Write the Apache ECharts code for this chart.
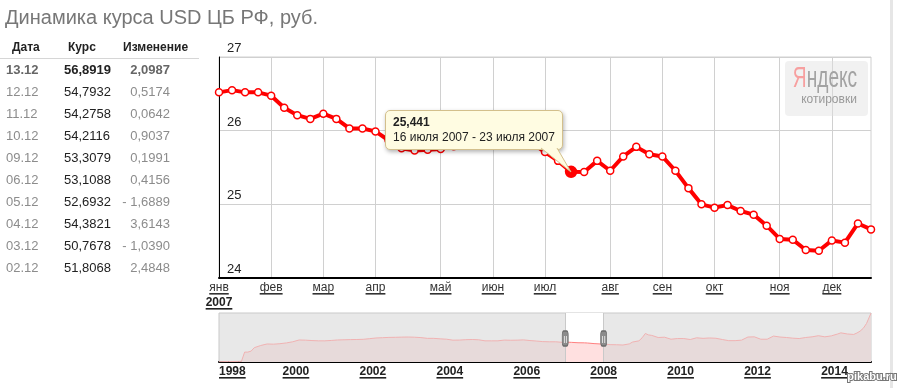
<!DOCTYPE html>
<html lang="ru">
<head>
<meta charset="UTF-8">
<title>Динамика курса USD ЦБ РФ</title>
<script src="https://cdn.jsdelivr.net/npm/echarts@6/dist/echarts.min.js"></script>
<style>
    html, body { margin: 0; padding: 0; background: #fff; }
    #chart { width: 897px; height: 388px; }
</style>
</head>
<body>
<div id="chart"></div>
<script>
    // таблица слева
    var tableDates = ['13.12', '12.12', '11.12', '10.12', '09.12', '06.12', '05.12', '04.12', '03.12', '02.12'];
    var tableRates = ['56,8919', '54,7932', '54,2758', '54,2116', '53,3079', '53,1088', '52,6932', '54,3821', '50,7678', '51,8068'];
    var tableChanges = ['2,0987', '0,5174', '0,0642', '0,9037', '0,1991', '0,4156', '- 1,6889', '3,6143', '- 1,0390', '2,4848'];

    // недели 2007 года (начало недели)
    var weeks = [
        '2007-01-08', '2007-01-15', '2007-01-22', '2007-01-29',
        '2007-02-05', '2007-02-12', '2007-02-19', '2007-02-26',
        '2007-03-05', '2007-03-12', '2007-03-19', '2007-03-26',
        '2007-04-02', '2007-04-09', '2007-04-16', '2007-04-23', '2007-04-30',
        '2007-05-07', '2007-05-14', '2007-05-21', '2007-05-28',
        '2007-06-04', '2007-06-11', '2007-06-18', '2007-06-25',
        '2007-07-02', '2007-07-09', '2007-07-16', '2007-07-23', '2007-07-30',
        '2007-08-06', '2007-08-13', '2007-08-20', '2007-08-27',
        '2007-09-03', '2007-09-10', '2007-09-17', '2007-09-24',
        '2007-10-01', '2007-10-08', '2007-10-15', '2007-10-22', '2007-10-29',
        '2007-11-05', '2007-11-12', '2007-11-19', '2007-11-26',
        '2007-12-03', '2007-12-10', '2007-12-17', '2007-12-24'
    ];
    var weekValues = [
        26.52, 26.55, 26.52, 26.52, 26.475, 26.31, 26.21, 26.16,
        26.23, 26.16, 26.03, 26.03, 25.99, 25.87, 25.76, 25.73, 25.74,
        25.75, 25.79, 25.84, 25.88, 25.92, 25.95, 25.90, 25.83,
        25.71, 25.59, 25.441, 25.44, 25.59, 25.456, 25.65, 25.78, 25.68,
        25.65, 25.456, 25.22, 25.00, 24.955, 24.99, 24.91, 24.86, 24.71,
        24.53, 24.52, 24.38, 24.37, 24.51, 24.48, 24.74, 24.66
    ];
    var activeIndex = 27;

    // обзор 1998 - 2014
    var overviewDates = [
        '1998-01', '1998-04', '1998-07', '1998-08', '1998-09', '1998-10', '1998-11', '1998-12',
        '1999-02', '1999-04', '1999-06', '1999-08', '1999-10', '1999-12',
        '2000-02', '2000-04', '2000-06', '2000-08', '2000-10', '2000-12',
        '2001-02', '2001-04', '2001-06', '2001-08', '2001-10', '2001-12',
        '2002-02', '2002-04', '2002-06', '2002-08', '2002-10', '2002-12',
        '2003-02', '2003-04', '2003-06', '2003-08', '2003-10', '2003-12',
        '2004-02', '2004-04', '2004-06', '2004-08', '2004-10', '2004-12',
        '2005-02', '2005-04', '2005-06', '2005-08', '2005-10', '2005-12',
        '2006-02', '2006-04', '2006-06', '2006-08', '2006-10', '2006-12',
        '2007-01', '2007-03', '2007-05', '2007-07', '2007-08', '2007-10', '2007-12',
        '2008-01', '2008-03', '2008-05', '2008-07', '2008-09', '2008-10', '2008-12',
        '2009-01', '2009-02', '2009-03', '2009-04', '2009-06', '2009-08', '2009-10', '2009-12',
        '2010-02', '2010-04', '2010-06', '2010-08', '2010-10', '2010-12',
        '2011-02', '2011-04', '2011-06', '2011-08', '2011-10', '2011-12',
        '2012-02', '2012-04', '2012-06', '2012-08', '2012-10', '2012-12',
        '2013-02', '2013-04', '2013-06', '2013-08', '2013-10', '2013-12',
        '2014-02', '2014-03', '2014-05', '2014-07', '2014-08', '2014-09', '2014-10', '2014-11', '2014-12-13'
    ];
    var overviewValues = [
        5.96, 6.10, 6.20, 6.30, 16.0, 16.0, 17.0, 20.6,
        22.9, 24.5, 24.3, 24.8, 25.6, 26.8,
        28.7, 28.5, 28.1, 27.8, 27.8, 28.2,
        28.7, 28.9, 29.1, 29.2, 29.4, 30.1,
        30.8, 31.1, 31.4, 31.5, 31.7, 31.8,
        31.6, 31.2, 30.4, 30.4, 29.9, 29.5,
        28.5, 28.6, 29.0, 29.2, 28.9, 27.8,
        27.8, 27.8, 28.6, 28.4, 28.5, 28.8,
        28.1, 27.6, 27.0, 26.8, 26.8, 26.3,
        26.5, 26.2, 25.8, 25.7, 25.5, 24.9, 24.5,
        24.6, 23.8, 23.7, 23.4, 24.6, 26.5, 27.8,
        31.0, 35.5, 34.0, 33.5, 31.3, 31.6, 29.5, 30.2,
        30.2, 29.2, 31.0, 30.4, 30.8, 30.5,
        29.2, 28.0, 28.0, 28.5, 31.8, 32.0,
        29.5, 29.5, 32.8, 31.8, 31.3, 30.6,
        30.2, 31.3, 32.0, 33.2, 32.0, 33.0,
        35.0, 36.2, 35.0, 34.5, 36.0, 38.0, 41.0, 46.0, 56.9
    ];
    var windowStart = 2007;
    var windowEnd = 2008;
    var overviewMin = 5.6;
    var yearStep = 2;

    var monthShort = ['янв', 'фев', 'мар', 'апр', 'май', 'июн', 'июл', 'авг', 'сен', 'окт', 'ноя', 'дек'];
    var monthGen = ['января', 'февраля', 'марта', 'апреля', 'мая', 'июня', 'июля', 'августа', 'сентября', 'октября', 'ноября', 'декабря'];

    var FONT = 'Arial, "Liberation Sans", sans-serif';

    function yearFrac(s) {
        var p = s.split('-');
        return +p[0] + (p[1] - 1) / 12 + ((p[2] || 1) - 1) / 365;
    }

    function isMonthStart(index) {
        return index === 0 || weeks[index].slice(5, 7) !== weeks[index - 1].slice(5, 7);
    }

    function monthOf(s) {
        return monthShort[s.slice(5, 7) - 1];
    }

    function fmtDate(s) {
        var p = s.split('-');
        return (+p[2]) + ' ' + monthGen[p[1] - 1] + ' ' + p[0];
    }

    var ov = overviewDates.map(function (d, i) { return [yearFrac(d), overviewValues[i]]; });
    var ovBefore = ov.filter(function (p) { return p[0] <= windowStart; });
    var ovWindow = ov.filter(function (p) { return p[0] >= windowStart && p[0] <= windowEnd; });
    var ovAfter = ov.filter(function (p) { return p[0] >= windowEnd; });
    var overviewMax = yearFrac(overviewDates[overviewDates.length - 1]);

    var labelRich = {
        m: {fontSize: 12, fontFamily: FONT, color: '#333', lineHeight: 15},
        y: {fontSize: 12, fontFamily: FONT, fontWeight: 'bold', color: '#222', lineHeight: 15}
    };

    // графика: заголовок, таблица, логотип
    var graphics = [];
    graphics.push({type: 'text', x: 5, y: 18, style: {text: 'Динамика курса USD ЦБ РФ, руб.', font: '20px ' + FONT, fill: '#777', textVerticalAlign: 'middle'}});
    var heads = [['Дата', 12], ['Курс', 68], ['Изменение', 123]];
    heads.forEach(function (h) {
        graphics.push({type: 'text', x: h[1], y: 48, style: {text: h[0], font: 'bold 12px ' + FONT, fill: '#222', textVerticalAlign: 'middle'}});
    });
    graphics.push({type: 'line', shape: {x1: 0, y1: 58.5, x2: 199, y2: 58.5}, style: {stroke: '#d6d6d6', lineWidth: 1}});
    for (var i = 0; i < tableDates.length; i++) {
        var y = 70 + i * 22;
        var w = i === 0 ? 'bold ' : '';
        graphics.push({type: 'text', x: 6, y: y, style: {text: tableDates[i], font: w + '13px ' + FONT, fill: i === 0 ? '#666' : '#8c8c8c', textVerticalAlign: 'middle'}});
        graphics.push({type: 'text', x: 64, y: y, style: {text: tableRates[i], font: w + '13px ' + FONT, fill: '#222', textVerticalAlign: 'middle'}});
        graphics.push({type: 'text', x: 170, y: y, style: {text: tableChanges[i], font: w + '13px ' + FONT, fill: i === 0 ? '#666' : '#8c8c8c', textAlign: 'right', textVerticalAlign: 'middle'}});
    }
    // Яндекс котировки
    graphics.push({type: 'rect', z: 1, shape: {x: 785, y: 61, width: 83, height: 55, r: 4}, style: {fill: 'rgba(225,225,225,0.45)'}});
    graphics.push({type: 'text', z: 1, x: 825, y: 79, scaleX: 0.66, style: {
        text: '{r|Я}{g|ндекс}', textAlign: 'center', textVerticalAlign: 'middle',
        rich: {
            r: {fontSize: 29, fontFamily: FONT, fill: '#f7a0a0'},
            g: {fontSize: 29, fontFamily: FONT, fill: '#a3a3a3'}
        }
    }});
    graphics.push({type: 'text', z: 1, x: 829, y: 99.5, style: {text: 'котировки', font: '12px ' + FONT, fill: '#999', textAlign: 'center', textVerticalAlign: 'middle'}});
    // полоса справа
    graphics.push({type: 'rect', shape: {x: 890, y: 0, width: 3, height: 388}, style: {fill: '#e6e6e6'}});
    graphics.push({type: 'text', z: 100, x: 872, y: 377, style: {text: 'pikabu.ru', font: 'bold 11px ' + FONT, fill: '#fff', stroke: '#777', lineWidth: 2, textAlign: 'center', textVerticalAlign: 'middle'}});

    var chart = echarts.init(document.getElementById('chart'));

    var option = {
        animation: false,
        graphic: graphics,
        tooltip: {
            trigger: 'item',
            triggerOn: 'none',
            alwaysShowContent: true,
            showDelay: 0,
            transitionDuration: 0,
            backgroundColor: '#fffce2',
            borderColor: '#d3bf8c',
            borderWidth: 1,
            padding: [4, 7],
            textStyle: {color: '#222', fontSize: 12, fontFamily: FONT},
            extraCssText: 'border-radius:5px;box-shadow:1px 2px 4px rgba(0,0,0,0.3);line-height:15px;',
            position: function (point) {
                return [point[0] - 186, point[1] - 62];
            },
            formatter: function (params) {
                var i = params.dataIndex;
                var next = weeks[i + 1] || weeks[i];
                var val = String(weekValues[i]).replace('.', ',');
                return '<b>' + val + '</b><br>' + fmtDate(weeks[i]) + ' - ' + fmtDate(next) +
                    '<svg style="position:absolute;left:150px;top:100%;margin-top:-1px;overflow:visible" width="40" height="28">' +
                    '<polygon points="5,0 21,0 35,24" fill="#fffce2"/>' +
                    '<polyline points="5,0 35,24 21,0" fill="none" stroke="#d3bf8c" stroke-width="1"/></svg>';
            }
        },
        grid: [
            {left: 219, top: 57, width: 652, height: 221, show: true, borderColor: '#d0d0d0', borderWidth: 1},
            {left: 219, top: 313, width: 652, height: 49, show: true, backgroundColor: '#e8e8e8', borderColor: '#c9c9c9', borderWidth: 1}
        ],
        xAxis: [
            {
                type: 'category',
                gridIndex: 0,
                data: weeks,
                boundaryGap: false,
                axisLine: {lineStyle: {color: '#000', width: 2}},
                axisTick: {show: false},
                splitLine: {show: true, interval: isMonthStart, lineStyle: {color: '#d0d0d0'}},
                axisLabel: {
                    interval: isMonthStart,
                    margin: 2,
                    formatter: function (value, index) {
                        var s = '{m|' + monthOf(value) + '}';
                        return index === 0 ? s + '\n{y|' + value.slice(0, 4) + '}' : s;
                    },
                    rich: labelRich
                }
            },
            {
                type: 'value',
                gridIndex: 1,
                min: 1998,
                max: overviewMax,
                interval: yearStep,
                axisLine: {lineStyle: {color: '#000', width: 2}},
                axisTick: {show: false},
                splitLine: {show: false},
                axisLabel: {
                    margin: 2,
                    showMaxLabel: false,
                    alignMinLabel: 'left',
                    formatter: function (v) { return '{y|' + v + '}'; },
                    rich: labelRich
                }
            }
        ],
        yAxis: [
            {
                type: 'value',
                gridIndex: 0,
                min: 24,
                max: 27,
                interval: 1,
                axisLine: {show: true, lineStyle: {color: '#000', width: 1}},
                axisTick: {show: false},
                splitLine: {lineStyle: {color: '#d0d0d0'}},
                axisLabel: {inside: true, margin: 8, verticalAlign: 'bottom', padding: [0, 0, 2, 0], color: '#222', fontSize: 13, fontFamily: FONT}
            },
            {type: 'value', gridIndex: 1, min: overviewMin, max: 57, show: false}
        ],
        series: [
            {
                type: 'line',
                xAxisIndex: 0,
                yAxisIndex: 0,
                z: 5,
                data: weekValues.map(function (v, i) {
                    return i === activeIndex ? {value: v, symbolSize: 11, itemStyle: {color: '#f00', borderColor: '#f00'}} : v;
                }),
                symbol: 'circle',
                symbolSize: 7,
                showAllSymbol: true,
                lineStyle: {color: '#f00', width: 4},
                itemStyle: {color: '#fff', borderColor: '#f00', borderWidth: 1.5},
                emphasis: {disabled: true}
            },
            {
                type: 'line', xAxisIndex: 1, yAxisIndex: 1, data: ovBefore, symbol: 'none', silent: true,
                tooltip: {show: false},
                lineStyle: {color: '#f0b2b2', width: 1},
                areaStyle: {color: '#e7dada', opacity: 1}
            },
            {
                type: 'line', xAxisIndex: 1, yAxisIndex: 1, data: ovAfter, symbol: 'none', silent: true,
                tooltip: {show: false},
                lineStyle: {color: '#f0b2b2', width: 1},
                areaStyle: {color: '#e7dada', opacity: 1}
            },
            {
                type: 'line', xAxisIndex: 1, yAxisIndex: 1, data: ovWindow, symbol: 'none', silent: true, z: 3,
                tooltip: {show: false},
                lineStyle: {color: '#ff8080', width: 1},
                areaStyle: {color: '#ffe0e0', opacity: 1},
                markArea: {
                    silent: true,
                    itemStyle: {color: '#fff'},
                    data: [[{xAxis: windowStart}, {xAxis: windowEnd}]]
                },
                markLine: {
                    silent: true,
                    symbol: 'none',
                    label: {show: false},
                    lineStyle: {color: '#c9c9c9', width: 1, type: 'solid'},
                    data: [{xAxis: windowStart}, {xAxis: windowEnd}]
                },
                markPoint: {
                    silent: true,
                    symbol: 'roundRect',
                    symbolSize: [6, 15],
                    itemStyle: {color: '#8c8c8c', borderColor: '#6a6a6a', borderWidth: 1},
                    label: {show: true, position: 'inside', formatter: '||', color: '#fff', fontSize: 8, fontFamily: FONT},
                    data: [{coord: [windowStart, 30.3]}, {coord: [windowEnd, 30.3]}]
                }
            }
        ]
    };

    chart.setOption(option);

    // подчёркивание подписей осей (ширина по тексту, позиция по осям)
    var measureCtx = document.createElement('canvas').getContext('2d');
    function textWidth(text, font) {
        measureCtx.font = font;
        return measureCtx.measureText(text).width;
    }
    function bar(x, y, w, h, color) {
        return {type: 'rect', z: 50, silent: true, shape: {x: x, y: y, width: w, height: h}, style: {fill: color}};
    }
    var underlines = [];
    var axisY0 = chart.convertToPixel({yAxisIndex: 0}, 24);
    weeks.forEach(function (wk, i) {
        if (!isMonthStart(i)) return;
        var cx = chart.convertToPixel({xAxisIndex: 0}, i);
        var mw = textWidth(monthOf(wk), '12px ' + FONT);
        underlines.push(bar(cx - mw / 2, axisY0 + 15, mw, 1.6, '#333'));
        if (i === 0) {
            var yw = textWidth(wk.slice(0, 4), 'bold 12px ' + FONT);
            underlines.push(bar(cx - yw / 2, axisY0 + 30, yw, 1.6, '#222'));
        }
    });
    var axisY1 = chart.convertToPixel({yAxisIndex: 1}, overviewMin);
    for (var yr = 1998; yr < overviewMax; yr += yearStep) {
        var x = chart.convertToPixel({xAxisIndex: 1}, yr);
        var tw = textWidth(String(yr), 'bold 12px ' + FONT);
        underlines.push(bar(yr === 1998 ? x : x - tw / 2, axisY1 + 15, tw, 1.6, '#222'));
    }
    chart.setOption({graphic: graphics.concat(underlines)});

    chart.dispatchAction({type: 'showTip', seriesIndex: 0, dataIndex: activeIndex});
</script>
</body>
</html>
